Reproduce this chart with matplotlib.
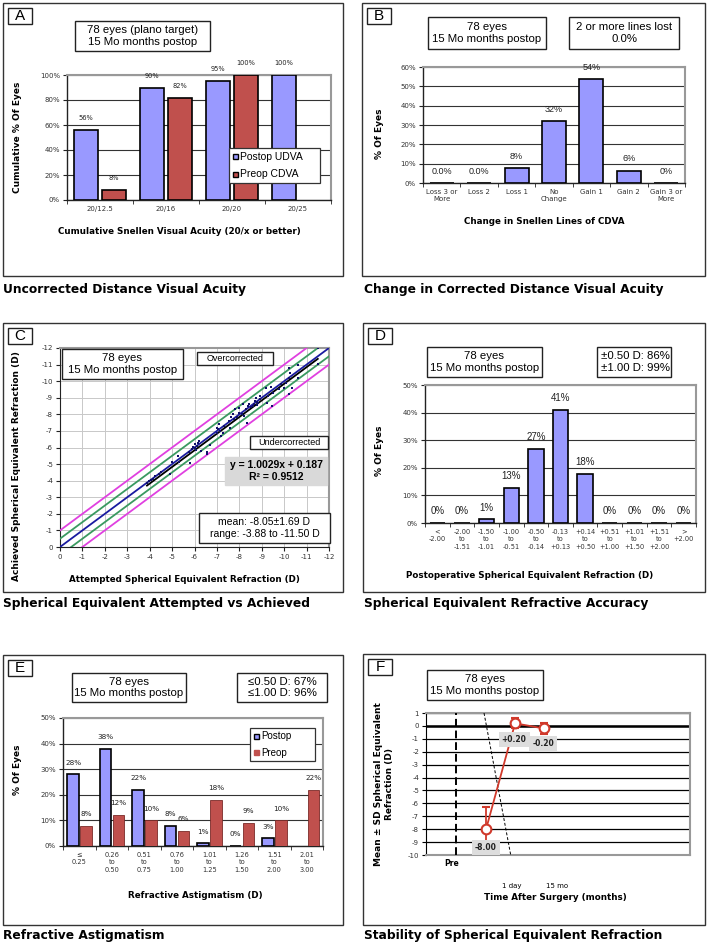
import numpy as np
import matplotlib
matplotlib.use('Agg')
from matplotlib import pyplot as plt
from matplotlib.patches import Rectangle

plt.rcParams['font.family'] = 'DejaVu Sans'
plt.rcParams['axes.unicode_minus'] = False

W, H = 708, 944
BLUE = '#9999FF'
RED = '#C0504D'
ARIAL = 'Liberation Sans'

# --- A: cumulative UDVA
acuity_cats = ['20/12.5', '20/16', '20/20', '20/25']
postop_udva = [56, 90, 95, 100]
preop_cdva = [8, 82, 100, None]
legend_a = ['Postop UDVA', 'Preop CDVA']

# --- B: change in lines of CDVA
line_cats = ['Loss 3 or\nMore', 'Loss 2', 'Loss 1', 'No\nChange', 'Gain 1', 'Gain 2', 'Gain 3 or\nMore']
line_pct = [0, 0, 7.7, 32.1, 53.8, 6.4, 0]
line_text = ['0.0%', '0.0%', '8%', '32%', '54%', '6%', '0%']

# --- C: attempted vs achieved SE (D)
attempted_se = [-3.88, -3.95, -4.05, -4.15, -4.25, -4.4, -4.5, -4.9, -5.0, -5.25, -5.3, -5.8, -5.75,
                -5.9, -6.0, -6.0, -6.05, -6.1, -6.15, -6.2, -5.95, -6.3, -6.55, -6.55, -6.7,
                -7.0, -7.0, -7.05, -7.1, -7.15, -7.2, -7.25, -7.3, -7.55, -7.6, -7.65, -7.7, -7.75,
                -7.8, -7.9, -8.0, -8.0, -8.1, -8.15, -8.2, -8.3, -8.35, -8.4, -8.45, -8.5, -8.6,
                -8.65, -8.7, -8.75, -8.8, -8.8, -8.85, -8.9, -9.2, -9.25, -9.3, -9.4, -9.45, -9.5,
                -9.75, -9.85, -10.0, -10.1, -10.2, -10.25, -10.2, -10.35, -10.2, -10.6, -10.6,
                -11.5, -11.5, -8.9]
achieved_se = [-3.85, -3.98, -4.02, -4.12, -4.3, -4.42, -4.55, -4.4, -5.1, -5.5, -5.15, -5.05, -5.75,
               -5.9, -6.0, -6.2, -5.85, -6.1, -6.3, -6.4, -6.05, -5.8, -5.7, -5.6, -6.15,
               -6.9, -7.2, -7.1, -7.4, -7.0, -6.7, -6.85, -7.3, -7.6, -7.2, -7.85, -8.0, -7.7,
               -8.3, -7.85, -8.1, -8.4, -8.0, -8.6, -7.9, -8.3, -7.45, -8.5, -8.6, -8.45, -8.5,
               -8.65, -8.8, -9.0, -8.55, -8.75, -8.7, -8.9, -9.6, -8.7, -9.1, -9.65, -8.5, -9.3,
               -9.5, -9.8, -9.6, -9.9, -10.2, -10.5, -9.2, -9.6, -10.8, -10.2, -11.0,
               -11.05, -12.0, -9.1]
fit_slope, fit_icept = 1.0029, 0.187
band_offsets = [-1.0, -0.5, 0.0, 0.5, 1.0]

# --- D: SE accuracy
se_cats = ['<\n-2.00', '-2.00\nto\n-1.51', '-1.50\nto\n-1.01', '-1.00\nto\n-0.51', '-0.50\nto\n-0.14',
           '-0.13\nto\n+0.13', '+0.14\nto\n+0.50', '+0.51\nto\n+1.00', '+1.01\nto\n+1.50',
           '+1.51\nto\n+2.00', '>\n+2.00']
se_pct = [0, 0, 1.3, 12.8, 26.9, 41.0, 17.9, 0, 0, 0, 0]
se_text = ['0%', '0%', '1%', '13%', '27%', '41%', '18%', '0%', '0%', '0%', '0%']

# --- E: refractive astigmatism
cyl_cats = ['\u2264\n0.25', '0.26\nto\n0.50', '0.51\nto\n0.75', '0.76\nto\n1.00', '1.01\nto\n1.25',
            '1.26\nto\n1.50', '1.51\nto\n2.00', '2.01\nto\n3.00']
cyl_postop = [28, 38, 22, 8, 1, 0, 3, None]
cyl_preop = [8, 12, 10, 6, 18, 9, 10, 22]
legend_e = ['Postop', 'Preop']

# --- F: stability
time_cats = ['Pre', '1 day', '15 mo']
se_mean = [-8.00, 0.20, -0.20]
se_sd = [1.69, 0.40, 0.40]

fig = plt.figure(figsize=(7.08, 9.44), dpi=100)


def fr(x0, y0, x1, y1):
    return [x0 / W, 1 - y1 / H, (x1 - x0) / W, (y1 - y0) / H]


def rect(x0, y0, x1, y1, ec='#222222', fc=None, lw=1.0, z=5):
    fig.patches.append(Rectangle((x0 / W, 1 - y1 / H), (x1 - x0) / W, (y1 - y0) / H,
                                 transform=fig.transFigure, fill=fc is not None,
                                 fc=fc if fc else 'none', ec=ec, lw=lw, zorder=z))


def tbox(x0, y0, x1, y1, txt, size=8.2, ha='center', fc='white', weight='normal', ec='#222222'):
    rect(x0, y0, x1, y1, ec=ec, fc=fc, lw=1.0)
    x = (x0 + x1) / 2 if ha == 'center' else x0 + 4
    fig.text(x / W, 1 - (y0 + y1) / 2 / H, txt, ha=ha, va='center', fontsize=size,
             family=ARIAL, weight=weight, linespacing=1.2, zorder=6)


def ftext(x, y, txt, **kw):
    fig.text(x / W, 1 - y / H, txt, **kw)


def legend_box(x0, y0, x1, y1, labels, colors, edges, size):
    # excel style legend: white box, small squares, text
    rect(x0, y0, x1, y1, ec='#333333', fc='white', lw=0.9)
    n = len(labels)
    step = (y1 - y0) / n
    for i, (lab, c, e) in enumerate(zip(labels, colors, edges)):
        yc = y0 + step * (i + 0.5)
        rect(x0 + 4, yc - 2.5, x0 + 9, yc + 2.5, ec=e, fc=c, lw=1.0, z=7)
        ftext(x0 + 11, yc, lab, ha='left', va='center', fontsize=size, family=ARIAL, zorder=7)


def bar_axes(ax, cats, ymax, ystep, tsize=5):
    n = len(cats)
    ax.set_xlim(-0.5, n - 0.5)
    ax.set_ylim(0, ymax)
    yt = np.arange(0, ymax + 1, ystep)
    ax.set_yticks(yt)
    ax.set_yticklabels([f'{v}%' for v in yt], fontsize=5, color='#333333')
    ax.yaxis.grid(True, color='#333333', lw=0.8)
    ax.set_axisbelow(True)
    for s in ['top', 'right']:
        ax.spines[s].set_color('#999999')
        ax.spines[s].set_linewidth(1.5)
    for s in ['left', 'bottom']:
        ax.spines[s].set_color('#222222')
        ax.spines[s].set_linewidth(1.0)
    ax.set_xticks(range(n))
    ax.set_xticklabels(cats, fontsize=tsize, color='#333333', linespacing=1.3)
    ax.set_xticks(np.arange(-0.5, n, 1), minor=True)
    ax.tick_params(axis='x', which='major', length=0, pad=4)
    ax.tick_params(axis='x', which='minor', length=3, color='#222222')
    ax.tick_params(axis='y', length=3, pad=2, color='#222222')


def bar_labels(ax, xs, vals, texts, size, family='DejaVu Sans'):
    for x, v, t in zip(xs, vals, texts):
        if v is None:
            continue
        ax.annotate(t, (x, v), xytext=(0, 8.5), textcoords='offset points', ha='center',
                    va='center', fontsize=size, family=family, color='#222222')


# panel frames and captions
panels = [('A', 3, 3, 343, 276), ('B', 362, 3, 705, 276), ('C', 3, 323, 343, 592),
          ('D', 363, 323, 705, 592), ('E', 3, 655, 343, 925), ('F', 363, 654, 705, 925)]
for lab, x0, y0, x1, y1 in panels:
    rect(x0, y0, x1, y1, ec='#333333', lw=1.0, z=1)
    tbox(x0 + 5, y0 + 5, x0 + 29, y0 + 21, lab, size=11)

captions = [(3, 290, 'Uncorrected Distance Visual Acuity'),
            (364, 290, 'Change in Corrected Distance Visual Acuity'),
            (3, 603, 'Spherical Equivalent Attempted vs Achieved'),
            (364, 603, 'Spherical Equivalent Refractive Accuracy'),
            (3, 936, 'Refractive Astigmatism'),
            (364, 936, 'Stability of Spherical Equivalent Refraction')]
for x, y, t in captions:
    ftext(x, y, t, ha='left', va='center', fontsize=8.8, weight='bold')

# ---------------- A
axA = fig.add_axes(fr(67, 75, 331, 200))
xa = np.arange(len(acuity_cats))
axA.bar(xa - 0.21, postop_udva, 0.36, color=BLUE, edgecolor='black', lw=1.2, zorder=3)
ka = [i for i, v in enumerate(preop_cdva) if v is not None]
axA.bar(xa[ka] + 0.21, [preop_cdva[i] for i in ka], 0.36, color=RED, edgecolor='black', lw=1.2, zorder=3)
bar_axes(axA, acuity_cats, 100, 20)
bar_labels(axA, xa - 0.21, postop_udva, [f'{v}%' for v in postop_udva], 4.8)
bar_labels(axA, xa + 0.21, preop_cdva, [f'{v}%' if v is not None else '' for v in preop_cdva], 4.8)
legend_box(229, 148, 320, 183, legend_a, [BLUE, RED], ['black', 'black'], 7.5)
tbox(75, 21, 210, 51, '78 eyes (plano target)\n15 Mo months postop')
ftext(18, 137, 'Cumulative % Of Eyes', rotation=90, ha='center', va='center', fontsize=6.5, weight='bold')
ftext(179, 232, 'Cumulative Snellen Visual Acuity (20/x or better)', ha='center', va='center',
      fontsize=6.3, weight='bold')

# ---------------- B
axB = fig.add_axes(fr(423, 67, 685, 183))
xb = np.arange(len(line_cats))
axB.bar(xb, line_pct, 0.64, color=BLUE, edgecolor='black', lw=1.2, zorder=3)
bar_axes(axB, line_cats, 60, 10)
bar_labels(axB, xb, line_pct, line_text, 6.5, ARIAL)
tbox(428, 17, 546, 49, '78 eyes\n15 Mo months postop')
tbox(569, 17, 679, 49, '2 or more lines lost\n0.0%')
ftext(379, 134, '% Of Eyes', rotation=90, ha='center', va='center', fontsize=6.5, weight='bold')
ftext(544, 222, 'Change in Snellen Lines of CDVA', ha='center', va='center', fontsize=6.3, weight='bold')

# ---------------- C
axC = fig.add_axes(fr(60, 348, 329, 547))
xs = np.array([1.0, -13.0])
band_cols = {1.0: '#E040E0', 0.5: '#3A9A60', 0.0: '#1A1AA0'}
for d in band_offsets:
    axC.plot(xs, xs + d, color=band_cols[abs(d)], lw=1.3, zorder=3)
xf = np.array([min(attempted_se), max(attempted_se)])
axC.plot(xf, fit_slope * xf + fit_icept, color='black', lw=1.3, zorder=4)
axC.scatter(attempted_se, achieved_se, s=4, marker='s', color='#10106A', zorder=5, lw=0)
axC.set_xlim(0, -12)
axC.set_ylim(0, -12)
axC.set_xticks(range(0, -13, -1))
axC.set_yticks(range(0, -13, -1))
axC.set_xticklabels([str(v) for v in range(0, -13, -1)], fontsize=5, color='#333333')
axC.set_yticklabels([str(v) for v in range(0, -13, -1)], fontsize=5, color='#333333')
axC.grid(True, color='#C8C8C8', lw=0.7)
axC.set_axisbelow(True)
axC.tick_params(length=3, pad=2, color='#222222')
for s in ['top', 'right']:
    axC.spines[s].set_color('#999999')
    axC.spines[s].set_linewidth(1.5)
for s in ['left', 'bottom']:
    axC.spines[s].set_color('#222222')
tbox(62, 349, 183, 379, '78 eyes\n15 Mo months postop')
tbox(197, 352, 273, 365, 'Overcorrected', size=6.5)
tbox(250, 436, 328, 449, 'Undercorrected', size=6.5)
tbox(225, 457, 327, 485, f'y = {fit_slope}x + {fit_icept}\nR\u00b2 = 0.9512', size=7.5,
     fc='#D9D9D9', ec='#D9D9D9', weight='bold')
tbox(199, 513, 330, 543, 'mean: -8.05\u00b11.69 D\nrange: -3.88 to -11.50 D', size=7.5)
ftext(17, 466, 'Achieved Spherical Equivalent Refraction (D)', rotation=90, ha='center', va='center',
      fontsize=6.5, weight='bold')
ftext(184, 580, 'Attempted Spherical Equivalent Refraction (D)', ha='center', va='center',
      fontsize=6.3, weight='bold')

# ---------------- D
axD = fig.add_axes(fr(425, 385, 696, 523))
xd = np.arange(len(se_cats))
axD.bar(xd, se_pct, 0.62, color=BLUE, edgecolor='black', lw=1.2, zorder=3)
bar_axes(axD, se_cats, 50, 10, tsize=4.8)
bar_labels(axD, xd, se_pct, se_text, 7, ARIAL)
tbox(427, 347, 542, 377, '78 eyes\n15 Mo months postop')
tbox(597, 347, 671, 377, '\u00b10.50 D: 86%\n\u00b11.00 D: 99%', ha='left')
ftext(379, 451, '% Of Eyes', rotation=90, ha='center', va='center', fontsize=6.5, weight='bold')
ftext(530, 575, 'Postoperative Spherical Equivalent Refraction (D)', ha='center', va='center',
      fontsize=6.3, weight='bold')

# ---------------- E
axE = fig.add_axes(fr(63, 718, 323, 846))
xe = np.arange(len(cyl_cats))
ke = [i for i, v in enumerate(cyl_postop) if v is not None]
axE.bar(xe[ke] - 0.19, [cyl_postop[i] for i in ke], 0.36, color=BLUE, edgecolor='black', lw=1.2, zorder=3)
axE.bar(xe + 0.21, cyl_preop, 0.36, color=RED, edgecolor='#7A2A28', lw=0.6, zorder=3)
bar_axes(axE, cyl_cats, 50, 10, tsize=4.8)
bar_labels(axE, xe - 0.19, cyl_postop, [f'{v}%' if v is not None else '' for v in cyl_postop], 5.2)
bar_labels(axE, xe + 0.21, cyl_preop, [f'{v}%' for v in cyl_preop], 5.2)
legend_box(250, 728, 315, 761, legend_e, [BLUE, RED], ['black', RED], 7)
tbox(72, 673, 186, 702, '78 eyes\n15 Mo months postop')
tbox(237, 673, 327, 702, '\u22640.50 D: 67%\n\u22641.00 D: 96%')
ftext(18, 770, '% Of Eyes', rotation=90, ha='center', va='center', fontsize=6.5, weight='bold')
ftext(195, 895, 'Refractive Astigmatism (D)', ha='center', va='center', fontsize=6.3, weight='bold')

# ---------------- F
axF = fig.add_axes(fr(426, 713, 690, 855))
xt = np.arange(len(time_cats))
axF.set_xlim(-2.07, 7.03)
axF.set_ylim(-10, 1)
axF.set_yticks(range(-10, 2))
axF.set_yticklabels([str(v) for v in range(-10, 2)], fontsize=5, color='#333333')
axF.yaxis.grid(True, color='black', lw=0.9)
axF.set_axisbelow(True)
axF.axhline(0, color='black', lw=1.8, zorder=2)
axF.set_xticks([])
axF.tick_params(axis='y', length=3, pad=2)
for s in ['top', 'right', 'bottom']:
    axF.spines[s].set_color('#999999')
    axF.spines[s].set_linewidth(1.5)
axF.plot([-1.03, -1.03], [-10, 1], color='black', lw=1.4, ls=(0, (4, 2)), zorder=3)
axF.plot([-0.07, 0.85], [1, -10], color='black', lw=0.7, ls=(0, (3, 2)), zorder=3)
axF.errorbar(xt, se_mean, yerr=se_sd, color='#D0392B', lw=1.3, capsize=3, capthick=1.2,
             marker='o', ms=7, mfc='white', mec='#D0392B', mew=1.5, zorder=5)
lab_off = [(0, -13), (-0.7, -11.5), (-0.7, -11)]
for x, v, off in zip(xt, se_mean, lab_off):
    axF.annotate(f'{v:+.2f}', (x, v), xytext=off, textcoords='offset points', ha='center', va='center',
                 fontsize=5.5, weight='bold', color='#222222', zorder=6,
                 bbox=dict(boxstyle='square,pad=0.4', fc='#DDDDDD', ec='none'))
tr = axF.get_xaxis_transform()
axF.text(-1.2, -0.06, time_cats[0], transform=tr, ha='center', va='center', fontsize=5.5, weight='bold')
axF.text(0.9, -0.22, time_cats[1], transform=tr, ha='center', va='center', fontsize=5)
axF.text(2.45, -0.22, time_cats[2], transform=tr, ha='center', va='center', fontsize=5)
tbox(427, 670, 543, 700, '78 eyes\n15 Mo months postop')
ftext(384, 784, 'Mean \u00b1 SD Spherical Equivalent\nRefraction (D)', rotation=90, ha='center',
      va='center', fontsize=6.5, weight='bold', linespacing=1.3)
ftext(555, 898, 'Time After Surgery (months)', ha='center', va='center', fontsize=6.3, weight='bold')

fig.savefig('out.png', dpi=100)
